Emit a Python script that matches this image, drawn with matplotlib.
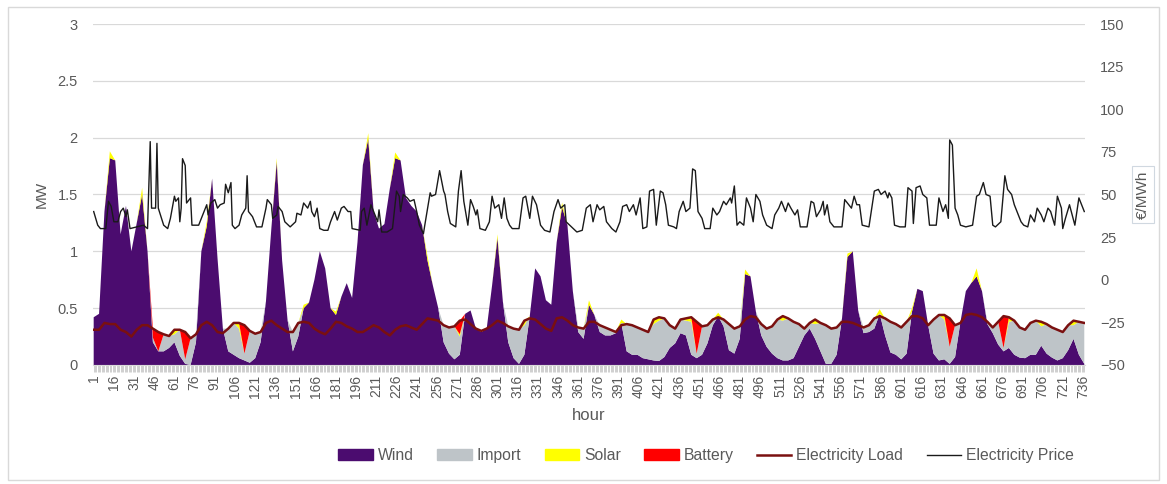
import numpy as np
import matplotlib
matplotlib.use('Agg')
import matplotlib.pyplot as plt
from matplotlib.patches import Patch, Rectangle
from matplotlib.lines import Line2D
from matplotlib.ticker import MultipleLocator

plt.rcParams['font.family'] = ['Liberation Sans', 'DejaVu Sans']

# hourly grid sampled every 4 hours (one row per day: h+0, 4, 8, 12, 16, 20)
hours = np.arange(1, 738, 4)

wind = [0.42, 0.45, 1.35, 1.82, 1.80, 1.15,
        1.40, 1.00, 1.25, 1.50, 1.00, 0.20,
        0.12, 0.12, 0.15, 0.20, 0.08, 0.01,
        0.00, 0.20, 1.00, 1.22, 1.64, 0.94,
        0.32, 0.12, 0.09, 0.06, 0.04, 0.02,
        0.06, 0.20, 0.56, 1.20, 1.79, 0.92,
        0.40, 0.12, 0.25, 0.50, 0.55, 0.75,
        1.00, 0.85, 0.50, 0.44, 0.60, 0.72,
        0.59, 1.08, 1.76, 1.99, 1.35, 1.20,
        1.24, 1.55, 1.82, 1.80, 1.47, 1.40,
        1.35, 1.23, 0.92, 0.70, 0.50, 0.20,
        0.10, 0.05, 0.09, 0.45, 0.48, 0.32,
        0.29, 0.32, 0.70, 1.12, 0.56, 0.20,
        0.06, 0.01, 0.09, 0.43, 0.85, 0.78,
        0.57, 0.53, 1.08, 1.39, 1.23, 0.65,
        0.29, 0.23, 0.53, 0.44, 0.29, 0.26,
        0.26, 0.28, 0.37, 0.12, 0.09, 0.09,
        0.06, 0.05, 0.04, 0.035, 0.07, 0.15,
        0.19, 0.28, 0.26, 0.09, 0.06, 0.09,
        0.19, 0.35, 0.43, 0.34, 0.13, 0.10,
        0.23, 0.80, 0.78, 0.47, 0.26, 0.16,
        0.10, 0.06, 0.04, 0.04, 0.06, 0.16,
        0.26, 0.32, 0.23, 0.12, 0.01, 0.01,
        0.09, 0.41, 0.95, 1.00, 0.48, 0.28,
        0.29, 0.32, 0.45, 0.26, 0.11, 0.09,
        0.05, 0.10, 0.47, 0.67, 0.65, 0.35,
        0.10, 0.04, 0.05, 0.01, 0.07, 0.38,
        0.65, 0.72, 0.78, 0.65, 0.36, 0.28,
        0.18, 0.12, 0.15, 0.09, 0.065, 0.06,
        0.09, 0.09, 0.17, 0.10, 0.065, 0.04,
        0.06, 0.13, 0.23, 0.09, 0.01]

imports = [0, 0, 0, 0, 0, 0,
           0, 0, 0, 0, 0, 0.04,
           0, 0.15, 0.105, 0.07, 0.23, 0.04,
           0.235, 0.07, 0, 0, 0, 0,
           0, 0.20, 0.28, 0.26, 0.06, 0.28,
           0.215, 0.09, 0, 0, 0, 0,
           0, 0.17, 0.12, 0, 0, 0,
           0, 0, 0, 0, 0, 0,
           0, 0, 0, 0, 0, 0,
           0, 0, 0, 0, 0, 0,
           0, 0, 0, 0, 0, 0.15,
           0.23, 0.29, 0.16, 0, 0, 0,
           0.01, 0, 0, 0, 0, 0.14,
           0.26, 0.30, 0.26, 0, 0, 0,
           0, 0, 0, 0, 0, 0,
           0.04, 0.09, 0, 0, 0.06, 0.07,
           0.05, 0.01, 0, 0.24, 0.26, 0.24,
           0.25, 0.24, 0.32, 0.355, 0.34, 0.20,
           0.13, 0.12, 0.13, 0.29, 0.04, 0.25,
           0.16, 0.05, 0, 0.06, 0.23, 0.22,
           0.11, 0, 0, 0, 0.10, 0.16,
           0.24, 0.34, 0.35, 0.37, 0.32, 0.20,
           0.06, 0.05, 0.13, 0.25, 0.34, 0.31,
           0.24, 0, 0, 0, 0, 0.05,
           0.06, 0.09, 0, 0.15, 0.27, 0.27,
           0.28, 0.28, 0, 0, 0, 0,
           0.30, 0.40, 0.35, 0.15, 0.28, 0,
           0, 0, 0, 0, 0.02, 0.05,
           0.20, 0.03, 0.23, 0.30, 0.265, 0.25,
           0.28, 0.30, 0.17, 0.26, 0.265, 0.27,
           0.23, 0.22, 0.12, 0.29, 0.36]

solar = [0, 0, 0, 0.06, 0, 0,
         0, 0, 0, 0.06, 0, 0,
         0, 0, 0, 0.04, 0, 0,
         0, 0, 0, 0.04, 0, 0,
         0, 0, 0, 0.05, 0, 0,
         0, 0, 0, 0, 0.03, 0,
         0, 0, 0, 0.03, 0, 0,
         0, 0, 0, 0.03, 0, 0,
         0, 0, 0, 0.05, 0, 0,
         0, 0, 0.05, 0, 0, 0,
         0, 0, 0.04, 0, 0, 0,
         0, 0, 0.02, 0, 0, 0,
         0, 0, 0, 0.03, 0, 0,
         0, 0, 0.04, 0, 0, 0,
         0, 0, 0, 0.04, 0, 0,
         0, 0, 0.04, 0, 0, 0,
         0, 0, 0.03, 0, 0, 0,
         0, 0, 0.04, 0.03, 0, 0,
         0, 0, 0.02, 0.04, 0, 0,
         0, 0, 0.03, 0, 0, 0,
         0, 0.04, 0, 0, 0, 0,
         0, 0, 0.04, 0, 0, 0,
         0, 0, 0.04, 0, 0, 0,
         0, 0, 0.03, 0, 0, 0,
         0, 0, 0.04, 0, 0, 0,
         0, 0, 0.03, 0, 0, 0,
         0, 0, 0.04, 0, 0, 0,
         0, 0, 0.07, 0, 0, 0,
         0, 0, 0.04, 0, 0, 0,
         0, 0, 0.04, 0, 0, 0,
         0, 0, 0.04, 0, 0]

battery = [0, 0, 0, 0, 0, 0,
           0, 0, 0, 0, 0, 0.08,
           0.17, 0, 0, 0, 0, 0.24,
           0, 0, 0, 0, 0, 0,
           0, 0, 0, 0, 0.25, 0,
           0, 0, 0, 0, 0, 0,
           0, 0, 0, 0, 0, 0,
           0, 0, 0, 0, 0, 0,
           0, 0, 0, 0, 0, 0,
           0, 0, 0, 0, 0, 0,
           0, 0, 0, 0, 0, 0,
           0, 0, 0.12, 0, 0, 0,
           0, 0, 0, 0, 0, 0,
           0, 0, 0, 0, 0, 0,
           0, 0, 0, 0, 0, 0,
           0, 0, 0, 0, 0, 0,
           0, 0, 0, 0, 0, 0,
           0, 0, 0, 0, 0, 0,
           0, 0, 0, 0, 0.28, 0,
           0, 0, 0, 0, 0, 0,
           0, 0, 0, 0, 0, 0,
           0, 0, 0, 0, 0, 0,
           0, 0, 0, 0, 0, 0,
           0, 0, 0, 0, 0, 0,
           0, 0, 0, 0, 0, 0,
           0, 0, 0, 0, 0, 0,
           0, 0, 0, 0.25, 0, 0,
           0, 0, 0, 0, 0, 0,
           0, 0.28, 0, 0, 0, 0,
           0, 0, 0, 0, 0, 0,
           0, 0, 0, 0, 0]

load = [0.31, 0.31, 0.37, 0.36, 0.36, 0.31,
        0.29, 0.25, 0.31, 0.35, 0.35, 0.32,
        0.29, 0.27, 0.255, 0.31, 0.31, 0.29,
        0.235, 0.27, 0.35, 0.38, 0.35, 0.29,
        0.28, 0.32, 0.37, 0.37, 0.35, 0.30,
        0.275, 0.29, 0.37, 0.39, 0.35, 0.32,
        0.29, 0.29, 0.37, 0.38, 0.37, 0.32,
        0.29, 0.27, 0.32, 0.38, 0.37, 0.34,
        0.32, 0.29, 0.29, 0.32, 0.35, 0.33,
        0.29, 0.26, 0.31, 0.34, 0.35, 0.33,
        0.31, 0.36, 0.41, 0.40, 0.39, 0.35,
        0.33, 0.34, 0.39, 0.40, 0.36, 0.32,
        0.30, 0.32, 0.35, 0.39, 0.37, 0.34,
        0.32, 0.31, 0.39, 0.41, 0.40, 0.36,
        0.32, 0.30, 0.41, 0.42, 0.39, 0.35,
        0.33, 0.32, 0.38, 0.38, 0.35, 0.33,
        0.31, 0.29, 0.35, 0.36, 0.35, 0.33,
        0.31, 0.29, 0.40, 0.42, 0.41, 0.35,
        0.32, 0.40, 0.41, 0.42, 0.38, 0.34,
        0.35, 0.40, 0.42, 0.40, 0.36, 0.32,
        0.34, 0.40, 0.43, 0.42, 0.36, 0.32,
        0.34, 0.40, 0.43, 0.41, 0.38, 0.36,
        0.32, 0.37, 0.40, 0.37, 0.35, 0.32,
        0.33, 0.38, 0.38, 0.37, 0.35, 0.33,
        0.35, 0.41, 0.43, 0.41, 0.38, 0.36,
        0.33, 0.38, 0.43, 0.43, 0.41, 0.35,
        0.40, 0.44, 0.44, 0.41, 0.35, 0.37,
        0.44, 0.45, 0.44, 0.42, 0.38, 0.33,
        0.38, 0.43, 0.42, 0.39, 0.33, 0.31,
        0.37, 0.39, 0.38, 0.36, 0.33, 0.31,
        0.29, 0.35, 0.39, 0.38, 0.37]

# electricity price, read at its turning points
price_hours = [1, 4, 6, 10, 12, 14, 16, 19, 21, 23, 25, 26, 28, 38, 41, 43, 44, 47, 48, 49,
               53, 56, 58, 61, 62, 64, 65, 66, 67, 69, 70, 73, 74, 79, 83, 85, 86, 88, 91, 93,
               95, 98, 99, 101, 103, 104, 106, 109, 111, 114, 115, 116, 119, 122, 126, 129,
               130, 133, 134, 137, 138, 141, 143, 147,
               151, 152, 155, 157, 160, 162, 163, 165, 167, 169, 172, 175, 177, 180, 182, 185,
               187, 190, 192, 193, 199, 200, 202, 204, 207, 209, 212, 213, 215, 219, 223, 226,
               228, 229, 231, 234, 236, 239, 241, 243, 246, 247, 251, 252, 255, 258, 261, 262,
               264, 266, 270, 272, 274, 276, 279, 281, 283, 285, 286, 288, 292, 295,
               297, 299, 302, 304, 306, 308, 310, 312, 317, 320, 322, 325, 327, 330, 333, 336,
               340, 343, 346, 348, 351, 352, 356, 360, 364, 367, 370, 372, 375, 377, 380, 382,
               386, 389, 392, 394, 397, 399, 402, 404, 407, 409, 412, 414, 417, 419, 422, 424,
               426, 428, 432, 434, 436, 439, 441, 444,
               446, 448, 450, 453, 455, 459, 461, 464, 466, 469, 471, 474, 475, 477, 479, 481,
               484, 486, 489, 491, 493, 496, 498, 501, 505, 507, 510, 512, 515, 517, 519, 522,
               524, 526, 531, 534, 536, 538, 541, 543, 544, 546, 548, 551, 557, 559, 562, 564,
               566, 568, 570, 572, 577, 581, 584, 586, 589, 591,
               592, 594, 596, 600, 604, 606, 609, 610, 612, 615, 617, 620, 622, 627, 629, 632,
               634, 636, 637, 639, 641, 643, 645, 649, 654, 657, 659, 662, 664, 667, 669, 671,
               675, 678, 680, 683, 685, 688, 690, 692, 695, 697, 700, 702, 705, 707, 710, 712,
               715, 717, 720, 721, 723, 726, 728, 730, 733, 735, 737]
price = [40, 32, 30, 30, 46, 43, 34, 34, 40, 42, 37, 41, 30, 32, 30, 81, 42, 42, 80, 42,
         32, 30, 36, 49, 46, 48, 34, 42, 71, 67, 45, 48, 32, 32, 40, 44, 38, 45, 47, 42,
         44, 45, 56, 51, 57, 32, 30, 32, 38, 42, 61, 40, 37, 31, 31, 42,
         47, 44, 36, 38, 43, 40, 34, 31,
         34, 39, 38, 45, 42, 46, 40, 37, 42, 30, 29, 29, 34, 40, 35, 42,
         43, 40, 40, 30, 29, 40, 42, 32, 44, 40, 34, 41, 28, 28, 30, 52,
         49, 40, 50, 48, 46, 47, 40, 32, 27, 32, 51, 49, 50, 64, 52, 50,
         40, 33, 31, 52, 64, 46, 32, 47, 43, 38, 41, 30, 29, 34,
         49, 42, 44, 36, 48, 36, 32, 30, 30, 48, 49, 36, 49, 44, 32, 29,
         28, 40, 47, 42, 44, 34, 31, 28, 29, 42, 44, 34, 44, 41, 43, 34,
         30, 28, 34, 43, 44, 40, 44, 38, 48, 30, 31, 52, 53, 32, 52, 51,
         44, 32, 31, 30, 40, 46, 40, 42,
         65, 64, 40, 36, 30, 30, 42, 38, 40, 46, 44, 48, 45, 55, 32, 34,
         32, 48, 42, 34, 50, 46, 38, 32, 30, 38, 42, 46, 40, 45, 42, 38,
         41, 31, 31, 46, 45, 37, 41, 46, 38, 44, 34, 31, 31, 47, 44, 42,
         49, 44, 44, 32, 31, 52, 53, 50, 52, 48,
         51, 48, 32, 31, 31, 54, 52, 33, 54, 55, 50, 48, 32, 32, 48, 40,
         44, 36, 82, 79, 42, 38, 32, 31, 32, 49, 50, 57, 50, 49, 32, 31,
         34, 61, 53, 50, 44, 38, 34, 32, 31, 38, 34, 42, 38, 34, 42, 40,
         32, 49, 42, 30, 36, 44, 38, 32, 48, 44, 40]

tick_hours = list(range(1, 737, 15))

c_wind = '#4b0c6f'
c_import = '#bec4c8'
c_solar = '#ffff00'
c_batt = '#ff0000'
c_load = '#7a1010'
c_price = '#1a1a1a'
c_text = '#595959'
c_grid = '#d9d9d9'

fig = plt.figure(figsize=(11.67, 4.84), dpi=100)
ax = fig.add_axes([0.0797, 0.2459, 0.8500, 0.7045])

ax.stackplot(hours, wind, imports, solar, battery,
             colors=[c_wind, c_import, c_solar, c_batt], linewidth=0)
ax.plot(hours, load, color=c_load, lw=1.8, zorder=3)

ax.set_xlim(0.5, 737.5)
ax.set_ylim(0, 3)
ax.set_yticks(np.arange(0, 3.01, 0.5))
ax.set_yticklabels(['0', '0.5', '1', '1.5', '2', '2.5', '3'])
ax.set_xticks(tick_hours)
ax.set_xticklabels([str(h) for h in tick_hours], rotation=90)
ax.xaxis.set_minor_locator(MultipleLocator(1))
ax.grid(axis='y', color=c_grid, lw=0.9)
ax.set_axisbelow(True)
for s in ['top', 'left', 'right']:
    ax.spines[s].set_visible(False)
ax.spines['bottom'].set_color(c_grid)
ax.tick_params(axis='y', length=0, pad=11, labelsize=10.5, labelcolor=c_text)
ax.tick_params(axis='x', which='both', length=5, width=0.6, color='#c8c8c8',
               labelsize=10, labelcolor=c_text, pad=2)
ax.set_xlabel('hour', fontsize=12, color=c_text, labelpad=7)
ax.set_ylabel('MW', fontsize=11, color=c_text, labelpad=6)

ax2 = ax.twinx()
ax2.plot(price_hours, price, color=c_price, lw=1.0)
ax2.set_ylim(-50, 150)
ax2.set_yticks(np.arange(-50, 151, 25))
for s in ['top', 'left', 'right', 'bottom']:
    ax2.spines[s].set_visible(False)
ax2.tick_params(axis='y', length=0, pad=11, labelsize=10.5, labelcolor=c_text)
ax2.set_ylabel('€/MWh', fontsize=11, color=c_text, labelpad=8,
               bbox=dict(facecolor='white', edgecolor='#d0d8e0', lw=0.8, pad=3))

handles = [Patch(color=c_wind, label='Wind'),
           Patch(color=c_import, label='Import'),
           Patch(color=c_solar, label='Solar'),
           Patch(color=c_batt, label='Battery'),
           Line2D([], [], color=c_load, lw=1.8, label='Electricity Load'),
           Line2D([], [], color=c_price, lw=1.0, label='Electricity Price')]
fig.legend(handles=handles, loc='center', bbox_to_anchor=(0.605, 0.058), ncol=6,
           frameon=False, fontsize=11.3, handlelength=2.2, handleheight=0.7,
           handletextpad=0.3, columnspacing=1.5, labelcolor=c_text)

fig.patches.append(Rectangle((0.007, 0.008), 0.986, 0.977, transform=fig.transFigure,
                             fill=False, edgecolor='#d9d9d9', lw=1.0))

fig.savefig('out.png', dpi=100)
